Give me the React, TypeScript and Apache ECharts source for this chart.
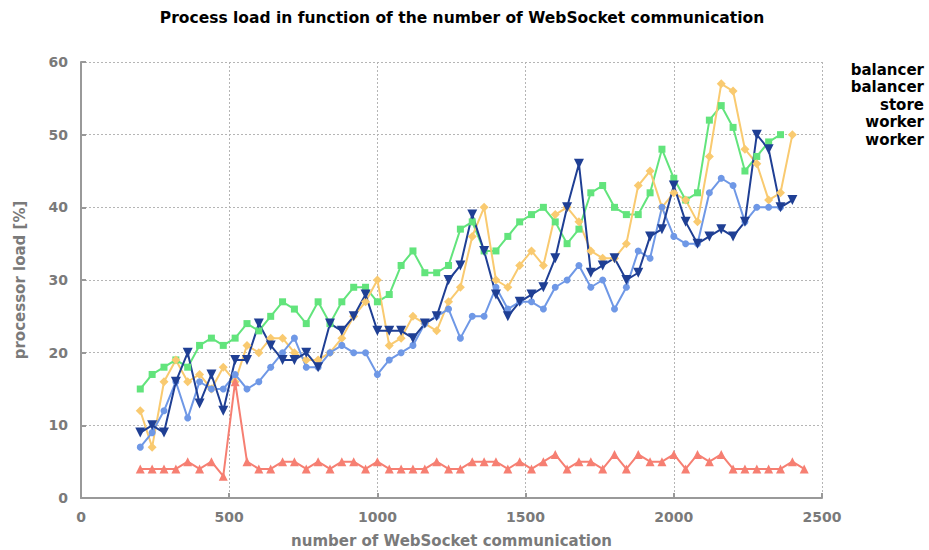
import React, { useEffect, useRef } from "react";
import * as echarts from "echarts";

const connections = [
  200, 240, 280, 320, 360, 400, 440, 480, 520, 560,
  600, 640, 680, 720, 760, 800, 840, 880, 920, 960,
  1000, 1040, 1080, 1120, 1160, 1200, 1240, 1280, 1320, 1360,
  1400, 1440, 1480, 1520, 1560, 1600, 1640, 1680, 1720, 1760,
  1800, 1840, 1880, 1920, 1960, 2000, 2040, 2080, 2120, 2160,
  2200, 2240, 2280, 2320, 2360, 2400, 2440,
];

const balancer1 = [
  15, 17, 18, 19, 18, 21, 22, 21, 22, 24,
  23, 25, 27, 26, 24, 27, 24, 27, 29, 29,
  27, 28, 32, 34, 31, 31, 32, 37, 38, 34,
  34, 36, 38, 39, 40, 38, 35, 37, 42, 43,
  40, 39, 39, 42, 48, 44, 41, 42, 52, 54,
  51, 45, 47, 49, 50,
];

const balancer2 = [
  12, 7, 16, 19, 16, 17, 15, 18, 16, 21,
  20, 22, 22, 20, 19, 19, 20, 22, 25, 27,
  30, 21, 22, 25, 24, 23, 27, 29, 36, 40,
  30, 29, 32, 34, 32, 39, 40, 38, 34, 33,
  33, 35, 43, 45, 40, 42, 41, 38, 47, 57,
  56, 48, 46, 41, 42, 50,
];

const store = [
  4, 4, 4, 4, 5, 4, 5, 3, 16, 5,
  4, 4, 5, 5, 4, 5, 4, 5, 5, 4,
  5, 4, 4, 4, 4, 5, 4, 4, 5, 5,
  5, 4, 5, 4, 5, 6, 4, 5, 5, 4,
  6, 4, 6, 5, 5, 6, 4, 6, 5, 6,
  4, 4, 4, 4, 4, 5, 4,
];

const worker1 = [
  7, 9, 12, 16, 11, 16, 15, 15, 17, 15,
  16, 18, 20, 22, 18, 18, 20, 21, 20, 20,
  17, 19, 20, 21, 24, 25, 26, 22, 25, 25,
  29, 26, 27, 27, 26, 29, 30, 32, 29, 30,
  26, 29, 34, 33, 40, 36, 35, 35, 42, 44,
  43, 38, 40, 40, 40,
];

const worker2 = [
  9, 10, 9, 16, 20, 13, 17, 12, 19, 19,
  24, 21, 19, 19, 20, 18, 24, 23, 25, 28,
  23, 23, 23, 22, 24, 25, 30, 32, 39, 34,
  28, 25, 27, 28, 29, 33, 40, 46, 31, 32,
  33, 30, 31, 36, 37, 43, 38, 35, 36, 37,
  36, 38, 50, 48, 40, 41,
];

const seriesNames = ["balancer-1", "balancer-2", "store-1", "worker-1", "worker-2"];
const seriesValues = [balancer1, balancer2, store, worker1, worker2];
const seriesColors = ["#62e47c", "#f9ca70", "#f67f72", "#6f98e6", "#1f3f94"];
const seriesSymbols = ["rect", "diamond", "triangle", "circle", "triangle"];
const seriesSymbolSizes = [7, 9, 9, 7, 10];
const seriesRotate = [0, 0, 0, 0, 180];

const FONT = "DejaVu Sans";
const AXIS_GRAY = "#7a7a7a";

export default function App() {
  const ref = useRef<HTMLDivElement>(null);

  useEffect(() => {
    if (!ref.current) return;
    const chart = echarts.init(ref.current, undefined, { renderer: "svg" });

    const series = seriesNames.map((name, s) => ({
      name,
      type: "line",
      data: seriesValues[s].map((v, i) => [connections[i], v]),
      symbol: seriesSymbols[s],
      symbolSize: seriesSymbolSizes[s],
      symbolRotate: seriesRotate[s],
      showSymbol: true,
      lineStyle: { width: 2, color: seriesColors[s] },
      itemStyle: { color: seriesColors[s] },
      emphasis: { disabled: true },
    }));

    chart.setOption({
      animation: false,
      backgroundColor: "#ffffff",
      title: {
        text: "Process load in function of the number of WebSocket communication",
        left: 457,
        textAlign: "center",
        top: 5,
        textStyle: { fontFamily: FONT, fontWeight: "bold", fontSize: 15.5, color: "#000" },
      },
      legend: {
        orient: "vertical",
        right: 0,
        top: 57,
        align: "right",
        icon: "rect",
        itemWidth: 1,
        itemHeight: 14,
        itemGap: 2.5,
        itemStyle: { color: "rgba(0,0,0,0)", borderWidth: 0 },
        formatter: (name: string) => name.replace(/-\d$/, ""),
        textStyle: { fontFamily: FONT, fontWeight: "bold", fontSize: 15, color: "#000", padding: [0, -10, 0, 0] },
        selectedMode: false,
      },
      grid: { left: 81, top: 62, width: 741, height: 436, containLabel: false, outerBoundsMode: "none" },
      xAxis: {
        type: "value",
        min: 0,
        max: 2500,
        interval: 500,
        name: "number of WebSocket communication",
        nameLocation: "middle",
        nameGap: 35,
        nameTextStyle: { fontFamily: FONT, fontWeight: "bold", fontSize: 15, color: AXIS_GRAY },
        axisLine: { show: true, lineStyle: { color: "#999", width: 2 } },
        axisTick: { show: true, inside: true, length: 5, lineStyle: { color: "#999", width: 2 } },
        axisLabel: {
          fontFamily: FONT,
          fontWeight: "bold",
          fontSize: 14,
          color: AXIS_GRAY,
          margin: 12,
          formatter: (v: number) => String(v),
        },
        splitLine: { show: true, lineStyle: { color: "#b5b5b5", type: [2, 2], width: 1 } },
      },
      yAxis: {
        type: "value",
        min: 0,
        max: 60,
        interval: 10,
        name: "processor load [%]",
        nameLocation: "middle",
        nameGap: 54,
        nameTextStyle: { fontFamily: FONT, fontWeight: "bold", fontSize: 15, color: AXIS_GRAY },
        axisLine: { show: true, lineStyle: { color: "#999", width: 2 } },
        axisTick: { show: true, inside: true, length: 5, lineStyle: { color: "#999", width: 2 } },
        axisLabel: { fontFamily: FONT, fontWeight: "bold", fontSize: 14, color: AXIS_GRAY, margin: 13 },
        splitLine: { show: true, lineStyle: { color: "#b5b5b5", type: [2, 2], width: 1 } },
      },
      series,
    });

    return () => chart.dispose();
  }, []);

  return <div ref={ref} style={{ width: 929, height: 550, position: "absolute", left: 0, top: 0 }} />;
}
